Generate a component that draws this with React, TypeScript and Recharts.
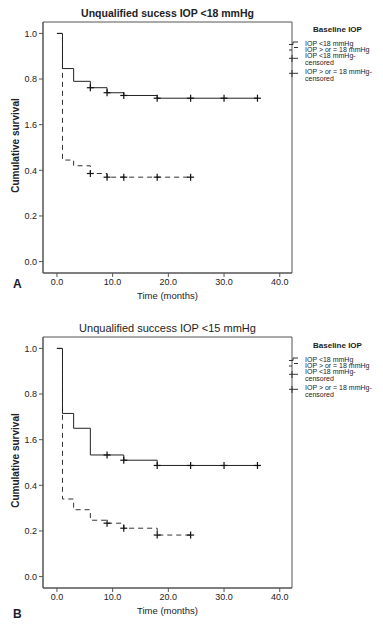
import React from "react";
import { ComposedChart, Line, Scatter, XAxis, YAxis, ReferenceArea } from "recharts";

const xTicks = [0, 10, 20, 30, 40];
const xTickLabels = ["0.0", "10.0", "20.0", "30.0", "40.0"];
const yTicks = [0, 0.2, 0.4, 0.6, 0.8, 1.0];
const yTickLabels = ["0.0", "0.2", "0.4", "1.6", "0.8", "1.0"];

const legendTitle = "Baseline IOP";
const legendItems = [
  ["IOP <18 mmHg"],
  ["IOP > or = 18 mmHg"],
  ["IOP <18 mmHg-", "censored"],
  ["IOP > or = 18 mmHg-", "censored"],
];

// Panel A: unqualified success IOP <18
const aLowTimes = [0, 1, 3, 6, 9, 12, 18, 36];
const aLowSurv = [1.0, 0.846, 0.79, 0.762, 0.74, 0.728, 0.716, 0.716];
const aLowCensTimes = [6, 9, 12, 18, 24, 30, 36];
const aLowCensSurv = [0.762, 0.74, 0.728, 0.716, 0.716, 0.716, 0.716];
const aHighTimes = [0, 1, 3, 6, 9, 24];
const aHighSurv = [1.0, 0.445, 0.42, 0.386, 0.37, 0.37];
const aHighCensTimes = [6, 9, 12, 18, 24];
const aHighCensSurv = [0.386, 0.37, 0.37, 0.37, 0.37];

// Panel B: unqualified success IOP <15
const bLowTimes = [0, 1, 3, 6, 12, 18, 36];
const bLowSurv = [1.0, 0.715, 0.65, 0.533, 0.51, 0.487, 0.487];
const bLowCensTimes = [9, 12, 18, 24, 30, 36];
const bLowCensSurv = [0.533, 0.51, 0.487, 0.487, 0.487, 0.487];
const bHighTimes = [0, 1, 3, 6, 9, 12, 18, 24];
const bHighSurv = [1.0, 0.34, 0.293, 0.247, 0.234, 0.212, 0.182, 0.182];
const bHighCensTimes = [9, 12, 18, 24];
const bHighCensSurv = [0.234, 0.212, 0.182, 0.182];

const zip = (t: number[], s: number[]) => t.map((x, i) => ({ t: x, s: s[i] }));

const FONT = "'Liberation Sans', Arial, sans-serif";
const INK = "#222";
const X_DOMAIN: [number, number] = [-2.5, 42.2];
const Y_DOMAIN: [number, number] = [-0.05, 1.05];

const Cross = (props: any) => {
  const { cx, cy } = props;
  if (cx == null || cy == null) return null;
  return (
    <g stroke="#111" strokeWidth={1.2}>
      <line x1={cx - 3.5} y1={cy} x2={cx + 3.5} y2={cy} />
      <line x1={cx} y1={cy - 3.5} x2={cx} y2={cy + 3.5} />
    </g>
  );
};

function Legend({ top }: { top: number }) {
  // row centres, relative to the legend title
  const rows = [13.3, 19.3, 25, 41.7];
  return (
    <div style={{ position: "absolute", left: 280, top, width: 103, fontFamily: FONT, color: INK }}>
      <div style={{ position: "absolute", left: 33, width: 45, textAlign: "center", fontSize: 8, lineHeight: "8px", fontWeight: "bold", top: -4, whiteSpace: "nowrap" }}>
        {legendTitle}
      </div>
      <svg style={{ position: "absolute", left: 0, top: 0 }} width={24} height={60}>
        <g stroke="#333" strokeWidth={1} fill="none">
          <path d="M9 14.5 H13 V12 H18" />
          <path d="M9 20 H12" />
          <path d="M14 17.5 H18" />
          <path d="M9 28.3 H18 M12 25 V32" />
          <path d="M9 43.3 H18 M12 40 V47" />
        </g>
      </svg>
      {legendItems.map((lines, i) => (
        <div key={i} style={{ position: "absolute", left: 25, top: rows[i] - 3.5, fontSize: 7, lineHeight: "7px", whiteSpace: "nowrap" }}>
          {lines.map((l, j) => (
            <div key={j}>{l}</div>
          ))}
        </div>
      ))}
    </div>
  );
}

function Panel({
  top,
  title,
  titleBold,
  letter,
  low,
  lowCens,
  high,
  highCens,
}: {
  top: number;
  title: string;
  titleBold: boolean;
  letter: string;
  low: { t: number; s: number }[];
  lowCens: { t: number; s: number }[];
  high: { t: number; s: number }[];
  highCens: { t: number; s: number }[];
}) {
  return (
    <div style={{ position: "absolute", left: 0, top, width: 383, height: 315 }}>
      <div
        style={{
          position: "absolute",
          left: 43,
          width: 249,
          top: 7,
          textAlign: "center",
          fontFamily: FONT,
          fontSize: titleBold ? 10.5 : 11,
          fontWeight: titleBold ? "bold" : "normal",
          color: INK,
        }}
      >
        {title}
      </div>
      <div style={{ position: "absolute", left: 0, top: 0 }}>
        <ComposedChart width={383} height={300} margin={{ top: 22, right: 91, left: 10, bottom: 0 }}>
          <XAxis
            dataKey="t"
            type="number"
            domain={X_DOMAIN}
            allowDataOverflow
            ticks={xTicks}
            tickFormatter={(v: number) => xTickLabels[xTicks.indexOf(v)]}
            height={27}
            tickSize={4}
            stroke="#555"
            tick={{ fill: INK, fontSize: 9, fontFamily: FONT }}
          />
          <YAxis
            type="number"
            domain={Y_DOMAIN}
            allowDataOverflow
            ticks={yTicks}
            tickFormatter={(v: number) => yTickLabels[yTicks.findIndex((y) => Math.abs(y - v) < 1e-6)]}
            width={33}
            tickSize={4}
            stroke="#555"
            tick={{ fill: INK, fontSize: 9, fontFamily: FONT }}
          />
          <ReferenceArea x1={X_DOMAIN[0]} x2={X_DOMAIN[1]} y1={Y_DOMAIN[0]} y2={Y_DOMAIN[1]} fill="none" stroke="#555" strokeWidth={1} ifOverflow="visible" />
          <Line data={high} dataKey="s" type="stepAfter" stroke="#333" strokeWidth={1} strokeDasharray="5 4" dot={false} isAnimationActive={false} />
          <Line data={low} dataKey="s" type="stepAfter" stroke="#222" strokeWidth={1} dot={false} isAnimationActive={false} />
          <Scatter data={lowCens} dataKey="s" shape={Cross} isAnimationActive={false} />
          <Scatter data={highCens} dataKey="s" shape={Cross} isAnimationActive={false} />
        </ComposedChart>
      </div>
      <div
        style={{
          position: "absolute",
          left: 15 - 80,
          top: 147 - 7,
          width: 160,
          textAlign: "center",
          transform: "rotate(-90deg)",
          fontFamily: FONT,
          fontSize: 10,
          fontWeight: "bold",
          color: INK,
        }}
      >
        Cumulative survival
      </div>
      <div style={{ position: "absolute", left: 43, width: 249, top: 290, textAlign: "center", fontFamily: FONT, fontSize: 9.5, color: INK }}>
        Time (months)
      </div>
      <Legend top={letter === "A" ? 30 : 31} />
      <div style={{ position: "absolute", left: 13, top: letter === "A" ? 277 : 292, fontFamily: FONT, fontSize: 12, fontWeight: "bold", color: "#1b1b2f" }}>
        {letter}
      </div>
    </div>
  );
}

export default function App() {
  return (
    <div style={{ position: "absolute", left: 0, top: 0, width: 383, height: 629, background: "#fff" }}>
      <Panel
        top={0}
        title="Unqualified sucess IOP <18 mmHg"
        titleBold
        letter="A"
        low={zip(aLowTimes, aLowSurv)}
        lowCens={zip(aLowCensTimes, aLowCensSurv)}
        high={zip(aHighTimes, aHighSurv)}
        highCens={zip(aHighCensTimes, aHighCensSurv)}
      />
      <Panel
        top={315}
        title="Unqualified success IOP <15 mmHg"
        titleBold={false}
        letter="B"
        low={zip(bLowTimes, bLowSurv)}
        lowCens={zip(bLowCensTimes, bLowCensSurv)}
        high={zip(bHighTimes, bHighSurv)}
        highCens={zip(bHighCensTimes, bHighCensSurv)}
      />
    </div>
  );
}
